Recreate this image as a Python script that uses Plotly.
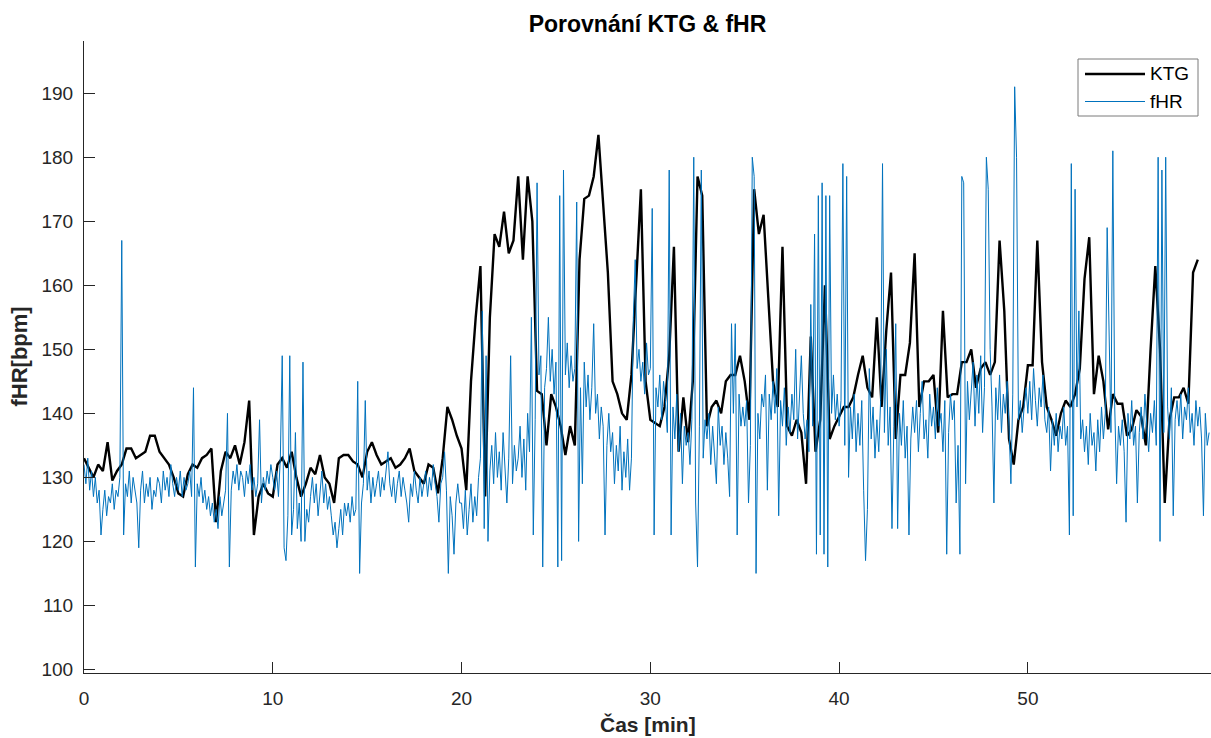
import numpy as np
import plotly.graph_objects as go

# ---------------- data ----------------
KTG_DT = 0.25   # minutes between KTG samples
FHR_DT = 0.1    # minutes between fHR samples

# KTG, one row per minute (t = m, m+0.25, m+0.5, m+0.75)
ktg = [
    133, 131.5, 130, 132,
    131, 135.5, 129.5, 131,
    132, 134.5, 134.5, 133,
    133.5, 134, 136.5, 136.5,
    134, 133, 132, 130,
    127.5, 127, 130.5, 132,
    131.5, 133, 133.5, 134.5,
    123, 131, 134, 133,
    135, 132, 135.5, 142,
    121, 127, 129, 127.5,
    127, 132, 133, 131.5,
    134, 130, 127, 129,
    131.5, 130.5, 133.5, 130,
    129, 126, 133, 133.5,
    133.5, 132.5, 132, 130,
    134, 135.5, 133.5, 132,
    132.5, 133, 131.5, 132,
    133, 134.5, 131, 130,
    129, 132, 131.5, 127.5,
    133, 141, 139, 136.5,
    134.5, 128, 145, 155,
    163, 127, 155, 168,
    166, 171.5, 165, 167,
    177, 164, 177, 170,
    143.5, 143, 135, 143,
    141, 138, 133.5, 138,
    135, 164, 173.5, 174,
    177, 183.5, 173, 162,
    145, 143, 140, 139,
    146, 160, 175, 145,
    139, 138.5, 138, 141,
    149, 166, 134, 142.5,
    135.5, 145, 177, 174,
    138, 141, 142, 140,
    145, 146, 146, 149,
    145, 139, 175, 168,
    171, 158, 145, 141,
    166, 138, 136.5, 139,
    137, 129, 152, 134,
    139, 160, 136, 138,
    139.5, 141, 141, 142.5,
    146, 149, 144, 142.5,
    155, 141, 153, 162,
    136, 146, 146, 151,
    165, 141, 145, 145,
    146, 137, 156, 142.5,
    143, 143, 148, 148,
    150, 144, 147, 148,
    146, 148, 167, 156,
    136, 132, 139, 141,
    147.5, 147.5, 167, 148,
    141, 139, 136.5, 140,
    142, 141, 143, 147,
    161, 167.5, 143, 149,
    145, 137.5, 143, 141.5,
    141.5, 136.5, 137.5, 140.5,
    139.5, 135, 150, 163,
    150, 126, 139, 142.5,
    142.5, 144, 141.5, 162,
    164,
]

# fHR, one row per minute (10 samples per minute)
fhr = [
    132, 129, 133, 128, 131, 127, 130, 126, 128, 121,
    125, 128, 124, 127, 126, 129, 125, 128, 127, 130,
    167, 121, 129, 127, 131, 126, 130, 128, 126, 119,
    128, 131, 126, 129, 127, 130, 125, 128, 127, 130,
    129, 126, 131, 128, 130, 127, 132, 129, 127, 130,
    128, 131, 127, 130, 128, 129, 131, 127, 144, 116,
    129, 127, 130, 126, 128, 125, 127, 124, 126, 123,
    125, 122, 127, 124, 126, 128, 140, 116, 128, 131,
    129, 132, 128, 131, 130, 127, 131, 129, 132, 128,
    130, 127, 129, 139, 126, 130, 128, 131, 129, 132,
    130, 128, 131, 127, 133, 149, 119, 117, 124, 149,
    121, 125, 137, 122, 126, 120, 148, 120, 125, 123,
    127, 130, 126, 129, 124, 128, 131, 126, 129, 125,
    127, 124, 121, 123, 119, 122, 125, 121, 126, 124,
    126, 123, 127, 124, 125, 145, 115, 126, 129, 142,
    128, 131, 126, 130, 127, 129, 131, 127, 130, 128,
    131, 134, 129, 127, 130, 126, 129, 131, 127, 130,
    128, 126, 123, 129, 127, 131, 128, 126, 130, 127,
    129, 131, 127, 130, 128, 132, 129, 127, 123, 129,
    130, 134, 128, 115, 127, 124, 118, 126, 129, 126,
    126, 122, 128, 121, 125, 129, 123, 127, 124, 130,
    133, 156, 122, 149, 120, 131, 135, 129, 137, 130,
    134, 128, 137, 131, 126, 133, 149, 129, 135, 131,
    133, 138, 130, 136, 128, 140, 134, 155, 121, 139,
    176, 146, 149, 116, 144, 147, 155, 145, 150, 143,
    148, 116, 174, 117, 178, 146, 151, 144, 149, 145,
    147, 173, 120, 144, 129, 148, 141, 146, 139, 144,
    154, 140, 143, 136, 141, 138, 121, 135, 140, 134,
    137, 129, 135, 131, 138, 128, 134, 130, 136, 128,
    133, 155, 164, 147, 150, 145, 148, 143, 151, 146,
    147, 172, 121, 144, 141, 146, 139, 145, 142, 137,
    178, 121, 141, 136, 143, 134, 140, 129, 138, 135,
    137, 132, 139, 180, 126, 116, 138, 178, 133, 139,
    136, 140, 132, 138, 134, 129, 141, 135, 138, 132,
    137, 133, 127, 154, 140, 154, 121, 143, 138, 141,
    138, 142, 126, 135, 180, 177, 115, 140, 136, 143,
    141, 146, 128, 143, 139, 145, 140, 147, 124, 142,
    138, 144, 135, 141, 137, 143, 139, 150, 136, 142,
    149, 140, 136, 139, 134, 157, 138, 168, 118, 174,
    121, 176, 118, 174, 116, 174, 140, 146, 139, 143,
    138, 142, 179, 135, 177, 130, 141, 136, 143, 134,
    140, 135, 142, 128, 117, 125, 147, 136, 141, 133,
    139, 134, 142, 179, 137, 150, 135, 141, 122, 138,
    154, 122, 140, 135, 142, 133, 138, 121, 136, 141,
    137, 142, 134, 140, 145, 136, 139, 133, 143, 138,
    141, 136, 144, 138, 140, 134, 142, 118, 137, 143,
    139, 142, 126, 135, 118, 177, 176, 129, 145, 139,
    143, 148, 138, 146, 140, 149, 137, 144, 180, 175,
    150, 141, 126, 144, 139, 146, 137, 143, 140, 145,
    138, 129, 143, 191, 180, 139, 142, 137, 141, 144,
    140, 145, 139, 147, 142, 138, 144, 141, 146, 139,
    137, 141, 131, 139, 135, 140, 134, 138, 136, 141,
    135, 138, 121, 179, 124, 175, 141, 156, 136, 139,
    134, 138, 132, 140, 135, 137, 131, 139, 134, 141,
    136, 140, 169, 152, 137, 181, 141, 129, 138, 135,
    139, 134, 123, 140, 136, 142, 135, 138, 126, 137,
    141, 136, 143, 138, 134, 140, 137, 142, 135, 180,
    120, 178, 137, 180, 141, 136, 144, 124, 139, 142,
    138, 143, 136, 141, 139, 144, 137, 140, 135, 142,
    138, 141, 136, 124, 140, 135, 137,
]

x_ticks = [0, 10, 20, 30, 40, 50]
y_ticks = [100, 110, 120, 130, 140, 150, 160, 170, 180, 190]
series_names = ["KTG", "fHR"]
title_text = "Porovnání KTG & fHR"
x_title = "Čas [min]"
y_title = "fHR[bpm]"

t_ktg = np.arange(len(ktg)) * KTG_DT
t_fhr = np.arange(len(fhr)) * FHR_DT

# ---------------- styling ----------------
W, H = 1211, 738
ML, MR, MT, MB = 84, 0, 41, 65
PW, PH = W - ML - MR, H - MT - MB
AX = "#262626"
FONT = "Liberation Sans, Arial, Helvetica, sans-serif"
BLUE = "#0072BD"


def px_x(px):
    return (px - ML) / PW


def px_y(py):
    return (H - MB - py) / PH


fig = go.Figure()
fig.add_trace(go.Scatter(x=t_ktg, y=ktg, mode="lines", name=series_names[0],
                         line=dict(color="black", width=2.4), showlegend=False))
fig.add_trace(go.Scatter(x=t_fhr, y=fhr, mode="lines", name=series_names[1],
                         line=dict(color=BLUE, width=1), showlegend=False))

axis_common = dict(showline=True, linecolor=AX, linewidth=1, mirror=False,
                   ticks="inside", ticklen=11, tickwidth=1, tickcolor=AX,
                   showgrid=False, zeroline=False,
                   tickfont=dict(family=FONT, size=19, color=AX))

fig.update_xaxes(range=[0, 59.7], tickvals=x_ticks, ticklabelstandoff=8, **axis_common)
fig.update_yaxes(range=[99.45, 198.15], tickvals=y_ticks, ticklabelstandoff=6, **axis_common)

# custom legend box (MATLAB style, long line samples)
shapes = [
    dict(type="rect", xref="paper", yref="paper",
         x0=px_x(1078), x1=px_x(1198), y0=px_y(116), y1=px_y(59),
         line=dict(color="#7a7a7a", width=1), fillcolor="white", layer="above"),
    dict(type="line", xref="paper", yref="paper",
         x0=px_x(1085), x1=px_x(1145), y0=px_y(74), y1=px_y(74),
         line=dict(color="black", width=2.4), layer="above"),
    dict(type="line", xref="paper", yref="paper",
         x0=px_x(1085), x1=px_x(1145), y0=px_y(101.5), y1=px_y(101.5),
         line=dict(color=BLUE, width=1), layer="above"),
]
annotations = [
    dict(text=series_names[0], xref="paper", yref="paper", x=px_x(1148), y=px_y(74),
         xanchor="left", yanchor="middle", showarrow=False,
         font=dict(family=FONT, size=19, color="black")),
    dict(text=series_names[1], xref="paper", yref="paper", x=px_x(1148), y=px_y(101.5),
         xanchor="left", yanchor="middle", showarrow=False,
         font=dict(family=FONT, size=19, color="black")),
    dict(text="<b>" + x_title + "</b>", xref="paper", yref="paper", x=0.5, y=px_y(724),
         xanchor="center", yanchor="middle", showarrow=False,
         font=dict(family=FONT, size=21, color=AX)),
    dict(text="<b>" + y_title + "</b>", xref="paper", yref="paper", x=px_x(18.5), y=0.5,
         xanchor="center", yanchor="middle", textangle=-90, showarrow=False,
         font=dict(family=FONT, size=22, color=AX)),
]

fig.update_layout(
    width=W, height=H,
    margin=dict(l=ML, r=MR, t=MT, b=MB, pad=0),
    paper_bgcolor="white", plot_bgcolor="white",
    title=dict(text="<b>" + title_text + "</b>", xref="paper", x=0.5, xanchor="center",
               yref="container", y=1 - 24 / H, yanchor="middle",
               font=dict(family=FONT, size=23, color="black")),
    shapes=shapes, annotations=annotations,
    showlegend=False,
)

fig.write_html("out.html")
